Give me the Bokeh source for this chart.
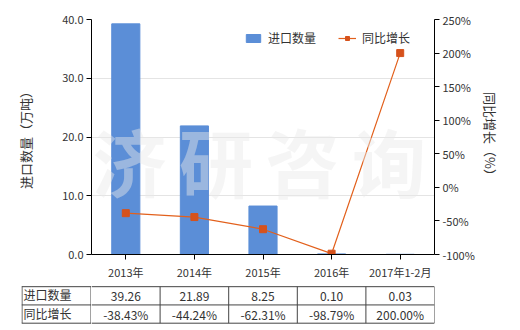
from bokeh.plotting import figure
from bokeh.layouts import column, row
from bokeh.models import (Range1d, LinearAxis, Label, Legend, LegendItem,
                          NumeralTickFormatter, FixedTicker, ColumnDataSource,
                          CustomJSTickFormatter)
from bokeh.embed import file_html
from bokeh.resources import INLINE
from bokeh.core.properties import value

categories = ["2013年", "2014年", "2015年", "2016年", "2017年1-2月"]
import_qty = [39.26, 21.89, 8.25, 0.10, 0.03]
yoy_growth = [-38.43, -44.24, -62.31, -98.79, 200.00]
qty_labels = ["39.26", "21.89", "8.25", "0.10", "0.03"]
growth_labels = ["-38.43%", "-44.24%", "-62.31%", "-98.79%", "200.00%"]
row_headers = ["进口数量", "同比增长"]
left_ticks = [0, 10, 20, 30, 40]
right_ticks = [-100, -50, 0, 50, 100, 150, 200, 250]

FONT = "Noto Sans CJK SC"
BAR = "#5b8ed7"
LINE = "#e2601c"
MARK = "#d6521c"
TXT = "#333333"
GRID = "#444444"

p = figure(x_range=categories, y_range=Range1d(0, 40), width=520, height=282,
           output_backend="svg", toolbar_location=None,
           min_border_left=91, min_border_right=86, min_border_top=19,
           min_border_bottom=23)
p.outline_line_color = None
p.extra_y_ranges = {"pct": Range1d(-100, 250)}

src = ColumnDataSource(dict(cat=categories, qty=import_qty, yoy=yoy_growth))
bars = p.vbar(x="cat", top="qty", width=0.41, color=BAR, source=src)
ln = p.line(x="cat", y="yoy", y_range_name="pct", color=LINE, line_width=1.2, source=src)
mk = p.scatter(x="cat", y="yoy", y_range_name="pct", marker="square", size=7,
               color=MARK, source=src)

# watermark
for i, ch in enumerate("济研咨询"):
    p.add_layout(Label(x=38 + i * 86.5, y=95, x_units="screen", y_units="screen",
                       text=ch, text_font=FONT, text_font_size="74px",
                       text_font_style="bold", text_color="#e8e8e8",
                       text_alpha=0.45, text_align="center", text_baseline="middle"))

# axes styling
for ax in [p.yaxis[0], p.xaxis[0]]:
    ax.axis_line_color = "black"
    ax.major_tick_line_color = "black"
    ax.minor_tick_line_color = None
    ax.major_label_text_font = FONT
    ax.major_label_text_font_size = "11px"
    ax.major_label_text_color = TXT
    ax.major_tick_out = 5
    ax.major_tick_in = 0
p.yaxis[0].ticker = FixedTicker(ticks=left_ticks)
p.yaxis[0].formatter = NumeralTickFormatter(format="0.0")
p.yaxis[0].axis_label = "进口数量（万吨）"
p.yaxis[0].axis_label_text_font = FONT
p.yaxis[0].axis_label_text_font_size = "13px"
p.yaxis[0].axis_label_text_font_style = "normal"
p.yaxis[0].axis_label_text_color = TXT
p.yaxis[0].axis_label_standoff = 24
p.yaxis[0].major_label_standoff = 3
p.xaxis[0].major_label_standoff = 4

ra = LinearAxis(y_range_name="pct", ticker=FixedTicker(ticks=right_ticks))
ra.formatter = CustomJSTickFormatter(code="return tick + '%';")
ra.axis_line_color = "black"
ra.major_tick_line_color = "black"
ra.minor_tick_line_color = None
ra.major_tick_out = 5
ra.major_tick_in = 0
ra.major_label_text_font = FONT
ra.major_label_text_font_size = "11px"
ra.major_label_text_color = TXT
ra.major_label_standoff = 3
ra.axis_label = "同比增长（%）"
ra.axis_label_text_font = FONT
ra.axis_label_text_font_size = "13px"
ra.axis_label_text_font_style = "normal"
ra.axis_label_text_color = TXT
ra.axis_label_standoff = 3
p.add_layout(ra, "right")

p.xgrid.grid_line_color = None
p.ygrid.grid_line_color = "#e4e4e4"
p.ygrid.ticker = FixedTicker(ticks=left_ticks)

legend = Legend(items=[LegendItem(label="进口数量", renderers=[bars]),
                       LegendItem(label="同比增长", renderers=[ln, mk])],
                orientation="horizontal", location=(153, 208),
                label_text_font=FONT, label_text_font_size="12px",
                label_text_color=TXT, border_line_color=None,
                background_fill_alpha=0, glyph_width=18, glyph_height=10,
                spacing=22, padding=4, label_standoff=6)
p.add_layout(legend, "center")

# data table: header column figure + value columns figure
n = len(categories)
yr = Range1d(2 + 7 / 17.5, -4 / 17.5)


def table_fig(w, xr, bl, br):
    f = figure(width=w, height=48, x_range=xr, y_range=yr, output_backend="svg",
               toolbar_location=None, min_border_left=bl, min_border_right=br,
               min_border_top=0, min_border_bottom=0,
               x_axis_location=None, y_axis_location=None)
    f.grid.visible = False
    f.outline_line_color = None
    return f


h = table_fig(91, Range1d(0, 70), 21, 0)
for r in range(3):
    h.segment(x0=[0], x1=[70], y0=[r], y1=[r], line_color=GRID, line_width=1)
h.segment(x0=[0.5, 69.5], x1=[0.5, 69.5], y0=[0, 0], y1=[2, 2], line_color=GRID,
          line_width=1)
h.text(x=[2, 2], y=[0.45, 1.45], text=row_headers, text_font=value(FONT),
       text_font_size="12px", text_color=TXT, text_align="left", text_baseline="middle")

t = table_fig(429, Range1d(0, n), 0, 86)
for r in range(3):
    t.segment(x0=[0], x1=[n], y0=[r], y1=[r], line_color=GRID, line_width=1)
for c in range(1, n + 1):
    t.segment(x0=[c], x1=[c], y0=[0], y1=[2], line_color=GRID, line_width=1)
xs = [i + 0.5 for i in range(n)]
t.text(x=xs, y=[0.55] * n, text=qty_labels, text_font=value(FONT), text_font_size="12px",
       text_color=TXT, text_align="center", text_baseline="middle")
t.text(x=xs, y=[1.55] * n, text=growth_labels, text_font=value(FONT), text_font_size="12px",
       text_color=TXT, text_align="center", text_baseline="middle")

layout = column(p, row(h, t, spacing=0), spacing=0)
open("out.html", "w").write(file_html(layout, INLINE))
